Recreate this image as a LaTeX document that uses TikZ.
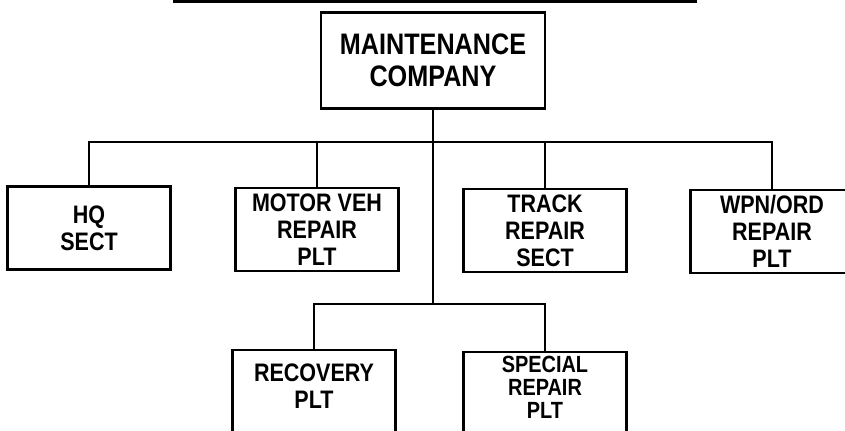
\documentclass[tikz,border=0pt]{standalone}
\usepackage{fontspec}
\setmainfont{Liberation Sans}
\newfontfamily\orgfont[FakeStretch=0.85]{Liberation Sans}
\usepackage{tikz}
\usetikzlibrary{positioning,calc}

\begin{document}
\begin{tikzpicture}[x=0.03cm,y=-0.03cm,
  unit/.style={draw,line width=2.2pt,align=center,inner sep=0pt,
    minimum width=4.9cm,minimum height=2.5cm,
    font=\orgfont\bfseries\fontsize{21.6}{23}\selectfont},
  tight/.style={unit,font=\orgfont\bfseries\fontsize{20}{19.8}\selectfont},
  hqbox/.style={unit,minimum width=6.72cm,minimum height=2.88cm,
    font=\orgfont\bfseries\fontsize{25.3}{27}\selectfont},
  link/.style={line width=2pt}]

\useasboundingbox (0,0) rectangle (845,431);

% title rule, cut at the top edge
\coordinate (rulel) at (173,1.4);
\coordinate (ruler) at (697,1.4);
\draw[line width=2.8pt] (rulel)--(ruler);

\node[hqbox] (comp) at (433,60.5) {MAINTENANCE\\COMPANY};

\node[unit] (hq) at (89,228) {HQ\\SECT};
\node[unit] (mveh) at (317,229.5) {MOTOR VEH\\REPAIR\\PLT};
\node[unit] (track) at (545,230.5) {TRACK\\REPAIR\\SECT};
\node[unit] (wpn) at (772,231.5) {WPN/ORD\\REPAIR\\PLT};

\node[unit] (recov) at (314,391.5) {RECOVERY\\PLT\\[-14pt]\mbox{}};
\node[tight] (spec) at (545,393.5) {SPECIAL\\REPAIR\\PLT\\[-9pt]\mbox{}};

\coordinate (bus) at (433,142);
\coordinate (sub) at (433,304);

\draw[link] (comp)--(sub);
\draw[link] (hq.north) |- (bus) -| (wpn.north);
\draw[link] (mveh.north)--(mveh.north |- bus);
\draw[link] (track.north)--(track.north |- bus);
\draw[link] (recov.north) |- (sub) -| (spec.north);
\end{tikzpicture}
\end{document}
